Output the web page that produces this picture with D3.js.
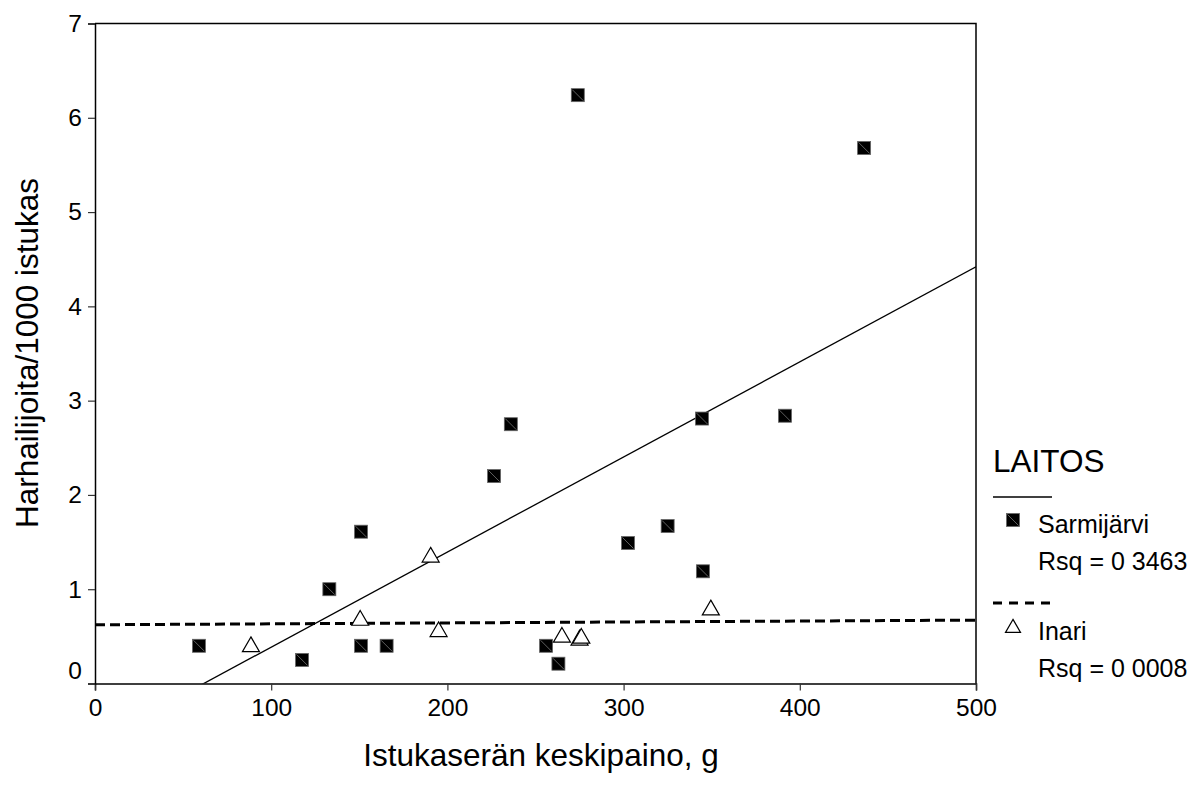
<!DOCTYPE html>
<html>
<head>
<meta charset="utf-8">
<script src="https://cdn.jsdelivr.net/npm/d3@7"></script>
<style>
    body { margin: 0; background: #fff; }
    text { font-family: "Liberation Sans", Arial, sans-serif; fill: #000; }
</style>
</head>
<body>
<div id="chart"></div>
<script>

// Sarmijärvi: mean weight (g) and strays / 1000 fish
const sarmiWeight = [59, 117.5, 133, 151, 151, 165.5, 226.5, 236, 256, 263, 274, 302.5, 325, 344.5, 345, 391.6, 436.5];
const sarmiRate   = [0.40, 0.25, 1.00, 0.40, 1.61, 0.40, 2.20, 2.75, 0.40, 0.21, 6.24, 1.49, 1.67, 2.81, 1.19, 2.84, 5.68];

// Inari
const inariWeight = [88.5, 150.5, 190.5, 195, 265, 275, 276, 349.5];
const inariRate   = [0.39, 0.67, 1.34, 0.55, 0.49, 0.46, 0.48, 0.78];

const xTicks = [0, 100, 200, 300, 400, 500];
const yTicks = [0, 1, 2, 3, 4, 5, 6, 7];

const legendTitle = "LAITOS";
const groupNames = ["Sarmijärvi", "Inari"];
const rsqLabels = ["Rsq = 0 3463", "Rsq = 0 0008"];

class StrayPlot {

    constructor(_parentElement) {
        this.parentElement = _parentElement;
        this.initVis();
    }

    initVis() {
        let vis = this;

        vis.width = 1189;
        vis.height = 800;
        vis.plot = { left: 95, right: 976, top: 23.5, bottom: 683.5 };

        vis.svg = d3.select("#" + vis.parentElement).append("svg")
            .attr("width", vis.width)
            .attr("height", vis.height);

        vis.x = d3.scaleLinear().domain([0, 500]).range([vis.plot.left, vis.plot.right]);
        vis.y = d3.scaleLinear().domain([0, 7]).range([vis.plot.bottom, vis.plot.top]);

        vis.svg.append("clipPath").attr("id", "plotClip")
            .append("rect")
            .attr("x", vis.plot.left).attr("y", vis.plot.top)
            .attr("width", vis.plot.right - vis.plot.left)
            .attr("height", vis.plot.bottom - vis.plot.top);

        vis.wrangleData();
    }

    // least squares fit for each group
    fit(xs, ys) {
        let mx = d3.mean(xs), my = d3.mean(ys);
        let sxy = d3.sum(xs, (v, i) => (v - mx) * (ys[i] - my));
        let sxx = d3.sum(xs, v => (v - mx) * (v - mx));
        let slope = sxy / sxx;
        return { slope: slope, intercept: my - slope * mx };
    }

    wrangleData() {
        let vis = this;

        vis.sarmi = sarmiWeight.map((w, i) => ({ w: w, r: sarmiRate[i] }));
        vis.inari = inariWeight.map((w, i) => ({ w: w, r: inariRate[i] }));

        vis.sarmiFit = vis.fit(sarmiWeight, sarmiRate);
        vis.inariFit = vis.fit(inariWeight, inariRate);

        vis.updateVis();
    }

    squareMark(g, cx, cy) {
        let s = 13;
        g.append("rect")
            .attr("x", cx - s / 2).attr("y", cy - s / 2)
            .attr("width", s).attr("height", s)
            .attr("fill", "#000")
            .attr("stroke", "#666")
            .attr("stroke-width", 0.8);
        g.append("line")
            .attr("x1", cx - s / 2 + 1).attr("y1", cy - s / 2 + 1)
            .attr("x2", cx + s / 2 - 1).attr("y2", cy + s / 2 - 1)
            .attr("stroke", "#777")
            .attr("stroke-width", 0.8);
    }

    triangleMark(g, cx, cy, side) {
        let h = side * Math.sqrt(3) / 2;
        g.append("path")
            .attr("d", "M" + cx + "," + (cy - 2 * h / 3)
                + "L" + (cx + side / 2) + "," + (cy + h / 3)
                + "L" + (cx - side / 2) + "," + (cy + h / 3) + "Z")
            .attr("fill", "#fff")
            .attr("stroke", "#000")
            .attr("stroke-width", 1.2);
    }

    updateVis() {
        let vis = this;

        // axes
        let xAxis = d3.axisBottom(vis.x).tickValues(xTicks).tickSize(7).tickPadding(8)
            .tickFormat(d3.format("d"));
        let yAxis = d3.axisLeft(vis.y).tickValues(yTicks).tickSize(7).tickPadding(6)
            .tickFormat(d3.format("d"));

        let gx = vis.svg.append("g")
            .attr("transform", "translate(0," + vis.plot.bottom + ")")
            .call(xAxis);
        let gy = vis.svg.append("g")
            .attr("transform", "translate(" + vis.plot.left + ",0)")
            .call(yAxis);

        [gx, gy].forEach(g => {
            g.select(".domain").attr("stroke", "#000").attr("stroke-width", 1.5);
            g.selectAll(".tick line").attr("stroke", "#333").attr("stroke-width", 1.2);
            g.selectAll(".tick text")
                .style("font-family", "'Liberation Sans', Arial, sans-serif")
                .style("font-size", "24.5px")
                .attr("fill", "#000");
        });
        // SPSS lifts the zero label on the y axis
        gy.selectAll(".tick text").filter(d => d === 0).attr("y", -13);

        // frame top and right
        vis.svg.append("path")
            .attr("d", "M" + vis.plot.left + "," + vis.plot.top + "H" + vis.plot.right + "V" + vis.plot.bottom)
            .attr("fill", "none")
            .attr("stroke", "#000")
            .attr("stroke-width", 1.5);

        // fit lines
        let lines = vis.svg.append("g").attr("clip-path", "url(#plotClip)");
        let sLine = [0, 500].map(w => [vis.x(w), vis.y(vis.sarmiFit.intercept + vis.sarmiFit.slope * w)]);
        let iLine = [0, 500].map(w => [vis.x(w), vis.y(vis.inariFit.intercept + vis.inariFit.slope * w)]);

        lines.append("path")
            .attr("d", d3.line()(sLine))
            .attr("fill", "none")
            .attr("stroke", "#000")
            .attr("stroke-width", 1.3);
        lines.append("path")
            .attr("d", d3.line()(iLine))
            .attr("fill", "none")
            .attr("stroke", "#000")
            .attr("stroke-width", 3)
            .attr("stroke-dasharray", "10,5");

        // points
        let pts = vis.svg.append("g");
        vis.sarmi.forEach(d => vis.squareMark(pts, vis.x(d.w), vis.y(d.r)));
        vis.inari.forEach(d => vis.triangleMark(pts, vis.x(d.w), vis.y(d.r), 17));

        // axis titles
        vis.svg.append("text")
            .attr("x", 541).attr("y", 766)
            .attr("text-anchor", "middle")
            .style("font-size", "31.5px")
            .text("Istukaserän keskipaino, g");

        vis.svg.append("text")
            .attr("transform", "translate(37.5,353) rotate(-90)")
            .attr("text-anchor", "middle")
            .style("font-size", "31.5px")
            .text("Harhailijoita/1000 istukas");

        // legend
        let lg = vis.svg.append("g");
        lg.append("text").attr("x", 993).attr("y", 472).style("font-size", "31.5px").text(legendTitle);

        lg.append("line").attr("x1", 993).attr("x2", 1052).attr("y1", 497).attr("y2", 497)
            .attr("stroke", "#000").attr("stroke-width", 1.3);
        vis.squareMark(lg, 1013, 520);
        lg.append("text").attr("x", 1038).attr("y", 533).style("font-size", "25px").text(groupNames[0]);
        lg.append("text").attr("x", 1038).attr("y", 570).style("font-size", "25px").text(rsqLabels[0]);

        lg.append("line").attr("x1", 993).attr("x2", 1052).attr("y1", 603).attr("y2", 603)
            .attr("stroke", "#000").attr("stroke-width", 3).attr("stroke-dasharray", "9,7");
        vis.triangleMark(lg, 1013, 628, 15);
        lg.append("text").attr("x", 1038).attr("y", 640).style("font-size", "25px").text(groupNames[1]);
        lg.append("text").attr("x", 1038).attr("y", 677).style("font-size", "25px").text(rsqLabels[1]);
    }
}

new StrayPlot("chart");
</script>
</body>
</html>
